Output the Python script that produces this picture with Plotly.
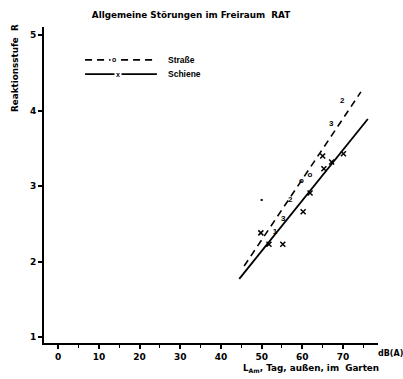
import plotly.graph_objects as go

# Regression line endpoints (dB(A), Reaktionsstufe)
strasse_line_x = [45.7, 74.4]
strasse_line_y = [1.94, 4.25]
schiene_line_x = [44.5, 76.1]
schiene_line_y = [1.77, 3.89]

# Data points
strasse_x = [69.8, 67.1, 61.9, 59.8, 57.0, 55.3, 53.3, 50.0]
strasse_y = [4.13, 3.82, 3.15, 3.07, 2.81, 2.57, 2.39, 2.81]
strasse_lbl = ["2", "3", "o", "o", "2", "3", "1", "•"]

schiene_x = [70.1, 67.2, 65.0, 65.3, 61.9, 60.2, 55.2, 51.8, 49.8]
schiene_y = [3.43, 3.32, 3.40, 3.23, 2.91, 2.66, 2.23, 2.23, 2.38]

x_ticks = [0, 10, 20, 30, 40, 50, 60, 70]
y_ticks = [1, 2, 3, 4, 5]

FONT = "Liberation Sans, Arial, sans-serif"
WIDE = "DejaVu Sans, Verdana, sans-serif"

fig = go.Figure()
fig.add_trace(go.Scatter(x=strasse_line_x, y=strasse_line_y, mode="lines",
                         line=dict(color="black", width=1.6, dash="7px,5px"),
                         showlegend=False, hoverinfo="skip"))
fig.add_trace(go.Scatter(x=schiene_line_x, y=schiene_line_y, mode="lines",
                         line=dict(color="black", width=1.8),
                         showlegend=False, hoverinfo="skip"))
fig.add_trace(go.Scatter(x=strasse_x, y=strasse_y, mode="text", text=strasse_lbl,
                         textposition="middle center",
                         textfont=dict(family=FONT, size=8, color="black", weight="bold"),
                         showlegend=False))
fig.add_trace(go.Scatter(x=schiene_x, y=schiene_y, mode="markers",
                         marker=dict(symbol="x-thin-open", size=5, color="black",
                                     line=dict(width=1.5, color="black")),
                         showlegend=False))

tickfont = dict(family=WIDE, size=9, color="black", weight="bold")

fig.update_xaxes(range=[-3.5, 78.6], tickvals=x_ticks, ticktext=[str(v) for v in x_ticks],
                 ticks="outside", ticklen=4, tickwidth=1.5, tickcolor="black",
                 minor=dict(dtick=5, ticks="outside", ticklen=3, tickcolor="black", tickwidth=1),
                 showline=True, linecolor="black", linewidth=2,
                 showgrid=False, zeroline=False, tickfont=tickfont)
fig.update_yaxes(range=[0.92, 5.11], tickvals=y_ticks, ticktext=[str(v) for v in y_ticks],
                 ticks="outside", ticklen=4, tickwidth=1.5, tickcolor="black",
                 showline=True, linecolor="black", linewidth=2,
                 showgrid=False, zeroline=False, tickfont=tickfont)

anno_font = dict(family=WIDE, size=8, color="black", weight="bold")
big_font = dict(family=WIDE, size=8.8, color="black", weight="bold")
leg_font = dict(family=FONT, size=8.5, color="black", weight="bold")

# Legend drawn manually
shapes = [
    dict(type="line", xref="paper", yref="paper", x0=0.123, x1=0.338, y0=0.896, y1=0.896,
         line=dict(color="black", width=1.6, dash="7px,5px")),
    dict(type="line", xref="paper", yref="paper", x0=0.123, x1=0.338, y0=0.851, y1=0.851,
         line=dict(color="black", width=1.6)),
]
annotations = [
    dict(text="o", xref="paper", yref="paper", x=0.21, y=0.896, showarrow=False,
         font=dict(family=FONT, size=7, color="black", weight="bold"), bgcolor="white",
         xanchor="center", yanchor="middle"),
    dict(text="x", xref="paper", yref="paper", x=0.222, y=0.851, showarrow=False,
         font=dict(family=FONT, size=7, color="black", weight="bold"), bgcolor="white",
         xanchor="center", yanchor="middle"),
    dict(text="Straße", xref="paper", yref="paper", x=0.365, y=0.896, showarrow=False,
         font=leg_font, xanchor="left", yanchor="middle"),
    dict(text="Schiene", xref="paper", yref="paper", x=0.365, y=0.851, showarrow=False,
         font=leg_font, xanchor="left", yanchor="middle"),
    dict(text="Reaktionsstufe  R", xref="paper", yref="paper", x=-0.087, y=0.87,
         textangle=-90, showarrow=False, font=big_font, xanchor="center", yanchor="middle"),
    dict(text="L<sub>Am</sub>, Tag, außen, im  Garten", xref="paper", yref="paper",
         x=0.80, y=-0.08, showarrow=False, font=big_font, xanchor="center", yanchor="middle"),
    dict(text="dB(A)", xref="paper", yref="paper", x=1.036, y=-0.032, showarrow=False,
         font=anno_font, xanchor="center", yanchor="middle"),
]

fig.update_layout(
    width=403, height=379,
    margin=dict(l=44, r=25, t=27, b=36),
    paper_bgcolor="white", plot_bgcolor="white",
    title=dict(text="Allgemeine Störungen im Freiraum  RAT", x=191/403, y=1-15/379,
               xanchor="center", yanchor="middle", font=big_font),
    shapes=shapes, annotations=annotations, showlegend=False,
)

fig.write_html("out.html", config={"displayModeBar": False},
               post_script="document.body.style.margin='0px';")
